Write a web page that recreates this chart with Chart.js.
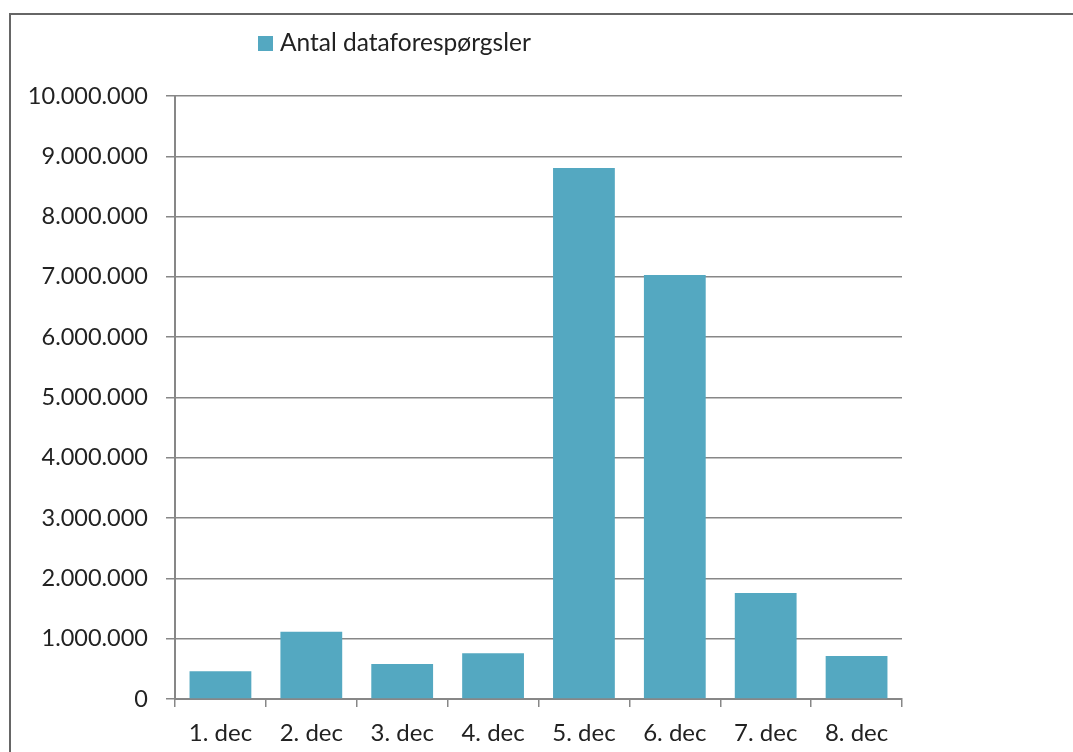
<!DOCTYPE html>
<html>
<head>
<meta charset="utf-8">
<script src="https://cdn.jsdelivr.net/npm/chart.js@4"></script>
<style>
 html, body { margin:0; padding:0; background:#fff; overflow:hidden; }
 #wrap { position:relative; width:1073px; height:752px; }
 #frame { position:absolute; left:9px; top:13px; width:1100px; height:800px; border:2px solid #666; box-sizing:border-box; }
 #chart { position:absolute; left:0; top:0; }
 #legend { position:absolute; left:258px; top:27px; font-family:Lato, sans-serif; font-size:24.5px; line-height:30px; color:#222; white-space:nowrap; }
 #legend span.box { display:inline-block; width:15px; height:15px; margin-right:7px; vertical-align:0px; }
</style>
</head>
<body>
<div id="wrap">
 <div id="frame"></div>
 <canvas id="chart" width="1073" height="752"></canvas>
 <div id="legend"></div>
</div>
<script>
// chart data
var categories = ['1. dec', '2. dec', '3. dec', '4. dec', '5. dec', '6. dec', '7. dec', '8. dec'];
var requests = [460000, 1115000, 580000, 758000, 8805000, 7030000, 1758000, 713000];
var seriesName = 'Antal dataforespørgsler';
var yTicks = [0, 1000000, 2000000, 3000000, 4000000, 5000000, 6000000, 7000000, 8000000, 9000000, 10000000];

var barColor = '#54a8c1';
var gridColor = '#878787';

function fmt(v) {
 return String(v).replace(/\B(?=(\d{3})+(?!\d))/g, '.');
}

var config = {
type: 'bar',
data: {
 labels: categories,
 datasets: [{
  label: seriesName,
  data: requests,
  backgroundColor: barColor,
  borderWidth: 0,
  barPercentage: 0.68,
  categoryPercentage: 1
 }]
},
options: {
 responsive: false,
 animation: false,
 layout: { padding: { left: 0, right: 171, top: 96, bottom: 0 } },
 plugins: {
  legend: { display: false },
  tooltip: { enabled: false }
 },
 scales: {
  x: {
   grid: { display: true, drawOnChartArea: false, drawTicks: true, tickLength: 8, color: gridColor, lineWidth: 1.5 },
   border: { display: true, color: gridColor, width: 2 },
   ticks: { color: '#222', padding: 12, font: { family: 'Lato', size: 24 } },
   afterFit: function(s) { s.height = 53; }
  },
  y: {
   min: 0,
   max: yTicks[yTicks.length - 1],
   afterBuildTicks: function(s) { s.ticks = yTicks.map(function(v) { return { value: v }; }); },
   grid: { color: gridColor, lineWidth: 1.5, tickLength: 9 },
   border: { display: true, color: gridColor, width: 2 },
   ticks: { color: '#222', padding: 18, font: { family: 'Lato', size: 23.5 }, callback: function(v) { return fmt(v); } },
   afterFit: function(s) { s.width = 175; }
  }
 }
}
};

window.onload = function() {
 var ctx = document.getElementById('chart').getContext('2d');
 window.myBar = new Chart(ctx, config);
 var ds = config.data.datasets[0];
 document.getElementById('legend').innerHTML =
  '<span class="box" style="background:' + ds.backgroundColor + '"></span>' + ds.label;
};
</script>
</body>
</html>
